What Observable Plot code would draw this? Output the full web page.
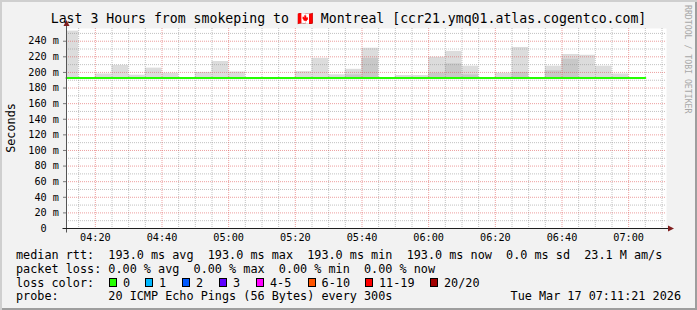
<!DOCTYPE html>
<html><head><meta charset="utf-8">
<script src="https://cdn.jsdelivr.net/npm/d3@7"></script>
<script src="https://cdn.jsdelivr.net/npm/@observablehq/plot@0.6"></script>
<style>
body{margin:0;background:#fff;}
#c{position:relative;width:697px;height:310px;background:#F2F2F2;box-shadow:inset 2px 2px 0 #CFCFCF, inset -2px -2px 0 #9E9E9E;overflow:hidden;font-family:"DejaVu Sans Mono",monospace;color:#000;}
#c svg{position:absolute;left:0;top:0;}
.t{position:absolute;white-space:pre;}
.leg{font-size:11.8px;line-height:14px;}
.box{position:absolute;width:6px;height:7px;border:1px solid #000;}
</style></head><body><div id="c"></div>
<script>
const title = "Last 3 Hours from smokeping to \u{1F1E8}\u{1F1E6} Montreal [ccr21.ymq01.atlas.cogentco.com]";
const yLabel = "Seconds";
const watermark = "RRDTOOL / TOBI OETIKER";
const stepEnds = ["04:15","04:20","04:25","04:30","04:35","04:40","04:45","04:50","04:55",
  "05:00","05:05","05:10","05:15","05:20","05:25","05:30","05:35","05:40","05:45","05:50","05:55",
  "06:00","06:05","06:10","06:15","06:20","06:25","06:30","06:35","06:40","06:45","06:50","06:55",
  "07:00","07:05"];
const smokeMax = [253,193,198,209,196.5,205.5,199,193,200,
  214,200.5,193,193,193,201,218,197,204,231,193,196,
  196,219.5,227,208,193,199,232,193,208,223,222,208,
  198,193];
const smokeDark = [null,null,null,null,null,null,null,null,null,
  null,null,null,null,null,null,null,null,197,218,null,null,
  null,199,211,197,null,null,200,null,202,217,null,null,
  null,null];
const median = [193,193,193,193,193,193,193,193,193,
  193,193,193,193,193,193,193,193,193,193,193,193,
  193,193,193,193,193,193,193,193,193,193,193,193,
  193,193];
const yTicks = [0,20,40,60,80,100,120,140,160,180,200,220,240];
const xTickLabels = ["04:20","04:40","05:00","05:20","05:40","06:00","06:20","06:40","07:00"];
const legendLines = [
  "median rtt:  193.0 ms avg  193.0 ms max  193.0 ms min  193.0 ms now  0.0 ms sd  23.1 M am/s",
  "packet loss: 0.00 % avg  0.00 % max  0.00 % min  0.00 % now",
  "loss color:",
  "probe:       20 ICMP Echo Pings (56 Bytes) every 300s"
];
const dateText = "Tue Mar 17 07:11:21 2026";
const lossLabels = ["0","1","2","3","4-5","6-10","11-19","20/20"];
const lossColors = ["#26ff00","#00b8ff","#0059ff","#5e00ff","#ff00ff","#ff5500","#ff0000","#a10000"];

const T = (h, m, s = 0) => new Date(Date.UTC(2026, 2, 17, h, m, s));
const P = s => { const [h, m] = s.split(":").map(Number); return T(h, m); };
const start = T(4, 11, 21), end = T(7, 11, 21);

const rows = stepEnds.map((t, i) => {
  const x2 = P(t);
  const x1 = new Date(Math.max(+start, +x2 - 300000));
  return {x1, x2, max: smokeMax[i], dark: smokeDark[i], med: median[i]};
});
const medPts = rows.map(d => ({x: d.x1, y: d.med})).concat([{x: rows[rows.length-1].x2, y: median[median.length-1]}]);

const majorX = xTickLabels.map(P);
const minorX = d3.utcMinute.every(5).range(start, end).filter(d => d.getUTCMinutes() % 20 !== 0);
const majorY = yTicks.filter(v => v > 0);
const minorY = d3.range(10, 257, 20);

const plot = Plot.plot({
  width: 697, height: 247,
  marginLeft: 66, marginRight: 31, marginTop: 28, marginBottom: 19,
  style: {background: "transparent", overflow: "visible", fontFamily: "DejaVu Sans Mono", fontSize: "10.2px", color: "#000"},
  x: {type: "utc", domain: [start, end]},
  y: {domain: [0, 256.3]},
  marks: [
    Plot.frame({fill: "white", stroke: "none"}),
    Plot.rect(rows.filter(d => d.max > d.med), {x1: "x1", x2: "x2", y1: "med", y2: "max", fill: "#dcdcdc"}),
    Plot.rect(rows.filter(d => d.dark != null), {x1: "x1", x2: "x2", y1: "med", y2: "dark", fill: "#c8c8c8"}),
    Plot.gridY(minorY, {stroke: "#8f8f8f", strokeOpacity: 0.55, strokeDasharray: "1,1"}),
    Plot.gridX(minorX, {stroke: "#8f8f8f", strokeOpacity: 0.55, strokeDasharray: "1,1"}),
    Plot.gridY(majorY, {stroke: "#de5050", strokeOpacity: 0.55, strokeDasharray: "1,1"}),
    Plot.gridX(majorX, {stroke: "#de5050", strokeOpacity: 0.55, strokeDasharray: "1,1"}),
    Plot.line(medPts, {x: "x", y: "y", curve: "step-after", stroke: "#26ff00", strokeWidth: 2}),
    Plot.axisY(yTicks, {tickSize: 0, tickPadding: 7.5, label: null,
      tickFormat: v => v === 0 ? "0\u00a0\u00a0" : `${v} m`}),
    Plot.axisY(majorY, {text: null, tickSize: 3, stroke: "#777"}),
    Plot.axisX(majorX, {tickSize: 0, tickPadding: 5, label: null, tickFormat: d3.utcFormat("%H:%M")})
  ]
});

const c = document.getElementById("c");
c.appendChild(plot);

// axes with arrows, placed from the scales' ranges
const svg = d3.select(plot);
const [xa, xb] = plot.scale("x").range;
const [yb, yt] = plot.scale("y").range;
const ax = Math.round(xa) + 0.5, ay = Math.round(yb) + 0.5;
svg.append("line").attr("x1", ax).attr("x2", ax).attr("y1", ay + 4).attr("y2", yt - 2)
  .attr("stroke", "#555").attr("stroke-width", 1);
svg.append("path").attr("d", `M${ax},${yt - 8}L${ax - 3},${yt - 2}L${ax + 3},${yt - 2}Z`).attr("fill", "#801f1f");
svg.append("line").attr("x1", ax - 4).attr("x2", xb + 2).attr("y1", ay).attr("y2", ay)
  .attr("stroke", "#1f1f1f").attr("stroke-width", 1.2);
svg.append("path").attr("d", `M${xb + 8},${ay}L${xb + 2},${ay - 3}L${xb + 2},${ay + 3}Z`).attr("fill", "#801f1f");

function addText(txt, css, cls) {
  const s = document.createElement("span");
  s.className = "t " + (cls || "");
  s.textContent = txt;
  Object.assign(s.style, css);
  c.appendChild(s);
  return s;
}
addText(title, {left: "0px", width: "697px", textAlign: "center", top: "11px", fontSize: "13.2px", lineHeight: "16px"});
addText(yLabel, {left: "10.5px", top: "128px", fontSize: "11.8px", lineHeight: "14px", transform: "translate(-50%,-50%) rotate(-90deg)"});
addText(watermark, {left: "684px", top: "5px", fontSize: "8.2px", lineHeight: "8px", writingMode: "vertical-rl", color: "#a8a8a8"});

const lineTops = [248, 261.5, 275.5, 289];
legendLines.forEach((l, i) => addText(l, {left: "16px", top: lineTops[i] + "px"}, "leg"));
addText(dateText, {right: "16px", top: lineTops[3] + "px"}, "leg");
const boxX = [109, 145, 182, 219, 256, 307.6, 365, 430];
lossLabels.forEach((lab, i) => {
  const b = document.createElement("div");
  b.className = "box";
  b.style.left = boxX[i] + "px";
  b.style.top = (lineTops[2] + 2.5) + "px";
  b.style.background = lossColors[i];
  c.appendChild(b);
  addText(lab, {left: (boxX[i] + 14) + "px", top: lineTops[2] + "px"}, "leg");
});
</script></body></html>
